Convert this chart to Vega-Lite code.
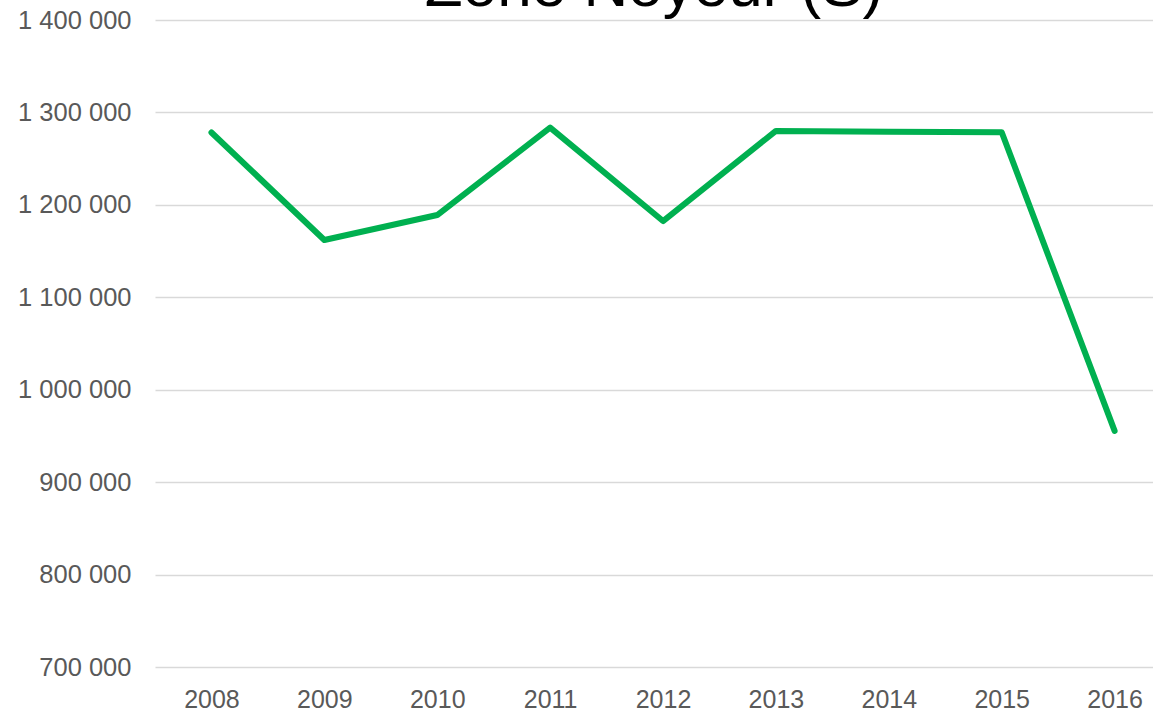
{
  "$schema": "https://vega.github.io/schema/vega-lite/v6.json",
  "width": 998,
  "height": 647,
  "autosize": {"type": "none"},
  "padding": {"left": 155, "top": 20, "right": 0, "bottom": 46},
  "background": "white",
  "title": {
    "text": "Zone Noyeur (S)",
    "anchor": "middle",
    "frame": "group",
    "baseline": "alphabetic",
    "offset": 0,
    "dy": 60,
    "font": "Liberation Sans",
    "fontSize": 62,
    "fontWeight": "normal",
    "color": "#000000"
  },
  "config": {
    "view": {"stroke": null},
    "locale": {"number": {"decimal": ",", "thousands": " ", "grouping": [3], "currency": ["", " €"]}}
  },
  "data": {
    "values": [
      {"year": 2008, "value": 1278300},
      {"year": 2009, "value": 1162000},
      {"year": 2010, "value": 1189000},
      {"year": 2011, "value": 1283500},
      {"year": 2012, "value": 1182500},
      {"year": 2013, "value": 1280000},
      {"year": 2014, "value": 1279000},
      {"year": 2015, "value": 1278500},
      {"year": 2016, "value": 955500}
    ]
  },
  "mark": {"type": "line", "color": "#00B050", "strokeWidth": 6, "strokeCap": "round", "strokeJoin": "round"},
  "encoding": {
    "x": {
      "field": "year",
      "type": "quantitative",
      "scale": {"domain": [2007.5, 2016.34], "nice": false, "zero": false},
      "axis": {
        "title": null,
        "values": [2008, 2009, 2010, 2011, 2012, 2013, 2014, 2015, 2016],
        "format": "d",
        "ticks": false,
        "domain": false,
        "grid": false,
        "labelPadding": 20,
        "labelFont": "Liberation Sans",
        "labelFontSize": 25,
        "labelColor": "#595959"
      }
    },
    "y": {
      "field": "value",
      "type": "quantitative",
      "scale": {"domain": [700000, 1400000], "nice": false, "zero": false},
      "axis": {
        "title": null,
        "values": [700000, 800000, 900000, 1000000, 1100000, 1200000, 1300000, 1400000],
        "format": ",d",
        "ticks": false,
        "domain": false,
        "grid": true,
        "gridColor": "#D9D9D9",
        "gridWidth": 1.5,
        "labelPadding": 24,
        "labelFont": "Liberation Sans",
        "labelFontSize": 25.5,
        "labelColor": "#595959"
      }
    }
  }
}
